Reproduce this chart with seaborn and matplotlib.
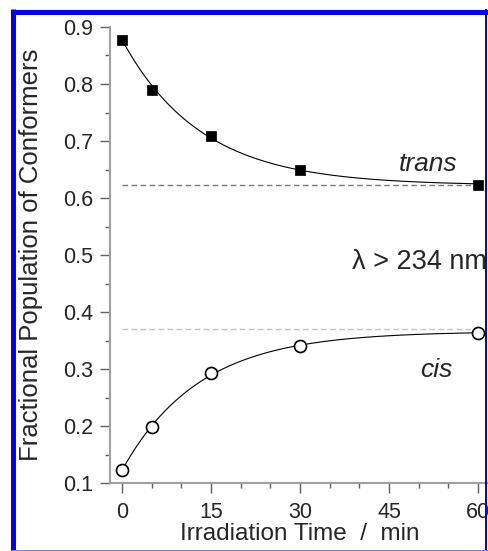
#!/usr/bin/env python3
"""Fractional population of trans/cis conformers vs irradiation time."""

import matplotlib
matplotlib.use("Agg")
import matplotlib.pyplot as plt
from matplotlib.lines import Line2D
from matplotlib.ticker import MultipleLocator
import numpy as np
import pandas as pd
import seaborn as sns

# measured points
time_min = [0, 5, 15, 30, 60]
trans_frac = [0.878, 0.790, 0.709, 0.650, 0.623]
cis_frac = [0.122, 0.198, 0.293, 0.341, 0.364]

# single-exponential fit parameters (plateau, amplitude, rate per min)
trans_fit = (0.622, 0.256, 0.075)
cis_fit = (0.366, -0.244, 0.077)

# photostationary levels (dashed guides)
trans_limit = 0.622
cis_limit = 0.370

x_ticks = [0, 15, 30, 45, 60]


def fit_curve(params, t):
    plateau, amp, rate = params
    return plateau + amp * np.exp(-rate * t)


def main() -> None:
    sns.set_theme(style="ticks")
    plt.rcParams["font.family"] = ["Liberation Sans", "DejaVu Sans"]

    fig = plt.figure(figsize=(4.89, 5.51), dpi=100)
    ax = fig.add_axes([0.225, 0.1234, 0.771, 0.8276])

    t_fine = np.linspace(0, 60, 300)
    fit_df = pd.DataFrame({
        "t": np.concatenate([t_fine, t_fine]),
        "y": np.concatenate([fit_curve(trans_fit, t_fine), fit_curve(cis_fit, t_fine)]),
        "series": ["trans"] * len(t_fine) + ["cis"] * len(t_fine),
    })
    sns.lineplot(data=fit_df, x="t", y="y", units="series", estimator=None,
                 color="black", linewidth=0.8, ax=ax, zorder=2)

    ax.hlines(trans_limit, 0, 60, colors="#7a7a7a", linestyles=(0, (4, 2.5)),
              linewidth=1.0, zorder=1)
    ax.hlines(cis_limit, 0, 60, colors="#c4c4c4", linestyles=(0, (4, 2.5)),
              linewidth=1.0, zorder=1)

    sns.scatterplot(x=time_min, y=trans_frac, marker="s", s=60, color="black",
                    edgecolor="black", linewidth=0.5, ax=ax, zorder=3)
    sns.scatterplot(x=time_min, y=cis_frac, marker="o", s=75, facecolor="white",
                    edgecolor="black", linewidth=1.2, ax=ax, zorder=3)

    ax.set_xlim(-2.0, 61.5)
    ax.set_ylim(0.1, 0.9)
    ax.set_xticks(x_ticks)
    ax.xaxis.set_minor_locator(MultipleLocator(5))
    ax.yaxis.set_major_locator(MultipleLocator(0.1))
    ax.yaxis.set_minor_locator(MultipleLocator(0.05))
    ax.set_yticklabels([f"{v:.1f}" for v in ax.get_yticks()])

    for side in ("top", "right"):
        ax.spines[side].set_visible(False)
    for side in ("left", "bottom"):
        ax.spines[side].set_color("#a0a0a0")
        ax.spines[side].set_linewidth(1.5)
    ax.tick_params(which="major", length=7, width=1.0, color="#606060",
                   labelsize=15.5, direction="out", pad=5)
    ax.tick_params(which="minor", length=3.5, width=1.0, color="#606060",
                   direction="out")
    ax.tick_params(axis="x", pad=7)

    ax.set_xlabel("")
    ax.set_ylabel("Fractional Population of Conformers", fontsize=18.5)
    ax.yaxis.set_label_coords(-0.178, 0.5)

    ax.text(51.6, 0.66, "trans", fontsize=19, style="italic", ha="center", va="center")
    ax.text(53.0, 0.298, "cis", fontsize=19, style="italic", ha="center", va="center")
    ax.text(61.4, 0.487, "\u03bb > 234 nm", fontsize=19.5, ha="right", va="center")

    fig.text(0.613, 6 / 551, "Irradiation Time  /  min", fontsize=17.5,
             ha="center", va="bottom")

    # blue frame around the figure
    W, H = 489, 551
    def px(x, y):
        return x / W, 1 - y / H
    frame = [
        (px(11, 11.5), px(489, 11.5), 5.0, "#0000ff"),
        (px(13.5, 9), px(13.5, 551), 5.0, "#0000ff"),
        (px(486.5, 9), px(486.5, 551), 2.0, "#0000ff"),
        (px(11, 550), px(489, 550), 1.0, "#7f7fff"),
    ]
    for (x0, y0), (x1, y1), lw, c in frame:
        fig.add_artist(Line2D([x0, x1], [y0, y1], transform=fig.transFigure,
                              color=c, linewidth=lw * 72 / 100, solid_capstyle="butt"))

    fig.savefig("out.png", dpi=100)


if __name__ == "__main__":
    main()
